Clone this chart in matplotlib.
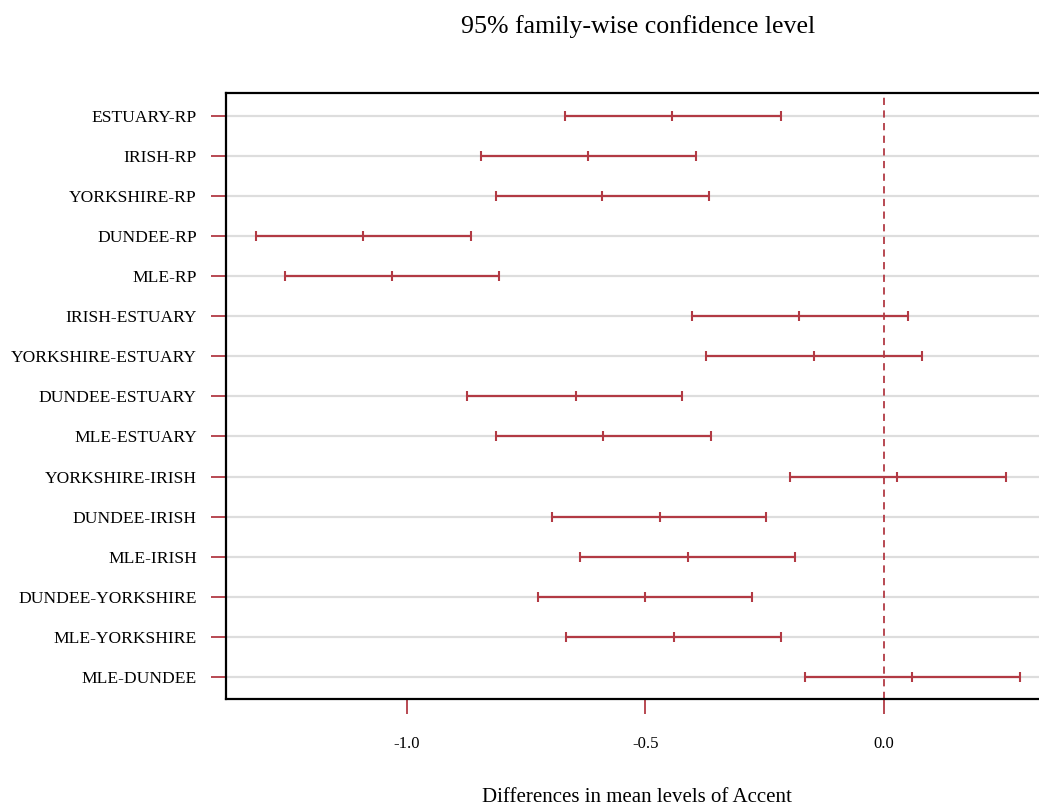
import numpy as np
import matplotlib.pyplot as plt

# Tukey HSD comparisons (top to bottom)
comparisons = ["ESTUARY-RP", "IRISH-RP", "YORKSHIRE-RP", "DUNDEE-RP", "MLE-RP",
               "IRISH-ESTUARY", "YORKSHIRE-ESTUARY", "DUNDEE-ESTUARY", "MLE-ESTUARY",
               "YORKSHIRE-IRISH", "DUNDEE-IRISH", "MLE-IRISH",
               "DUNDEE-YORKSHIRE", "MLE-YORKSHIRE", "MLE-DUNDEE"]
diff = [-0.444, -0.620, -0.591, -1.092, -1.032,
        -0.178, -0.147, -0.646, -0.588,
        0.028, -0.470, -0.411,
        -0.500, -0.441, 0.058]
lwr = [-0.668, -0.844, -0.814, -1.317, -1.256,
       -0.402, -0.372, -0.874, -0.814,
       -0.196, -0.695, -0.638,
       -0.725, -0.667, -0.166]
upr = [-0.216, -0.393, -0.366, -0.865, -0.806,
       0.050, 0.079, -0.423, -0.363,
       0.256, -0.247, -0.187,
       -0.276, -0.216, 0.285]
xticks = [-1.0, -0.5, 0.0]

red = "#B23A44"
serif = ["Liberation Serif", "DejaVu Serif"]

fig = plt.figure(figsize=(10.39, 8.07), dpi=100)
ax = fig.add_axes([226 / 1039, 1 - 699 / 807, (1060 - 226) / 1039, (699 - 93) / 807])

y = np.arange(len(comparisons))[::-1]

# light grid lines for each comparison
for yy in y:
    ax.axhline(yy, color="#dddddd", lw=1.6, zorder=0)

ax.axvline(0, color=red, lw=1.3, ls=(0, (4, 3)), zorder=1)

ax.hlines(y, lwr, upr, color=red, lw=1.6, zorder=2)
for vals in (lwr, diff, upr):
    ax.plot(vals, y, ls="none", marker="|", ms=7.5, mew=1.5, color=red, zorder=3)

ax.set_ylim(-0.55, len(comparisons) - 1 + 0.57)
ax.set_xlim(-1.379, (1060 - 884) / 477)

ax.set_yticks(y)
ax.set_yticklabels(comparisons, fontsize=12.6, family=serif)
ax.set_xticks(xticks)
ax.set_xticklabels([f"{t:.1f}" for t in xticks], fontsize=12, family=serif)

ax.tick_params(axis="y", colors=red, length=11, width=1.3, pad=10, labelcolor="black")
ax.tick_params(axis="x", colors=red, length=11, width=1.3, pad=16, labelcolor="black")

for s in ax.spines.values():
    s.set_linewidth(1.6)
    s.set_color("black")

fig.text(638 / 1039, 1 - 27 / 807, "95% family-wise confidence level",
         ha="center", va="center", fontsize=18.6, family=serif)
fig.text(637 / 1039, 1 - 797 / 807, "Differences in mean levels of Accent",
         ha="center", va="center", fontsize=15, family=serif)

plt.savefig("out.png", dpi=100)
